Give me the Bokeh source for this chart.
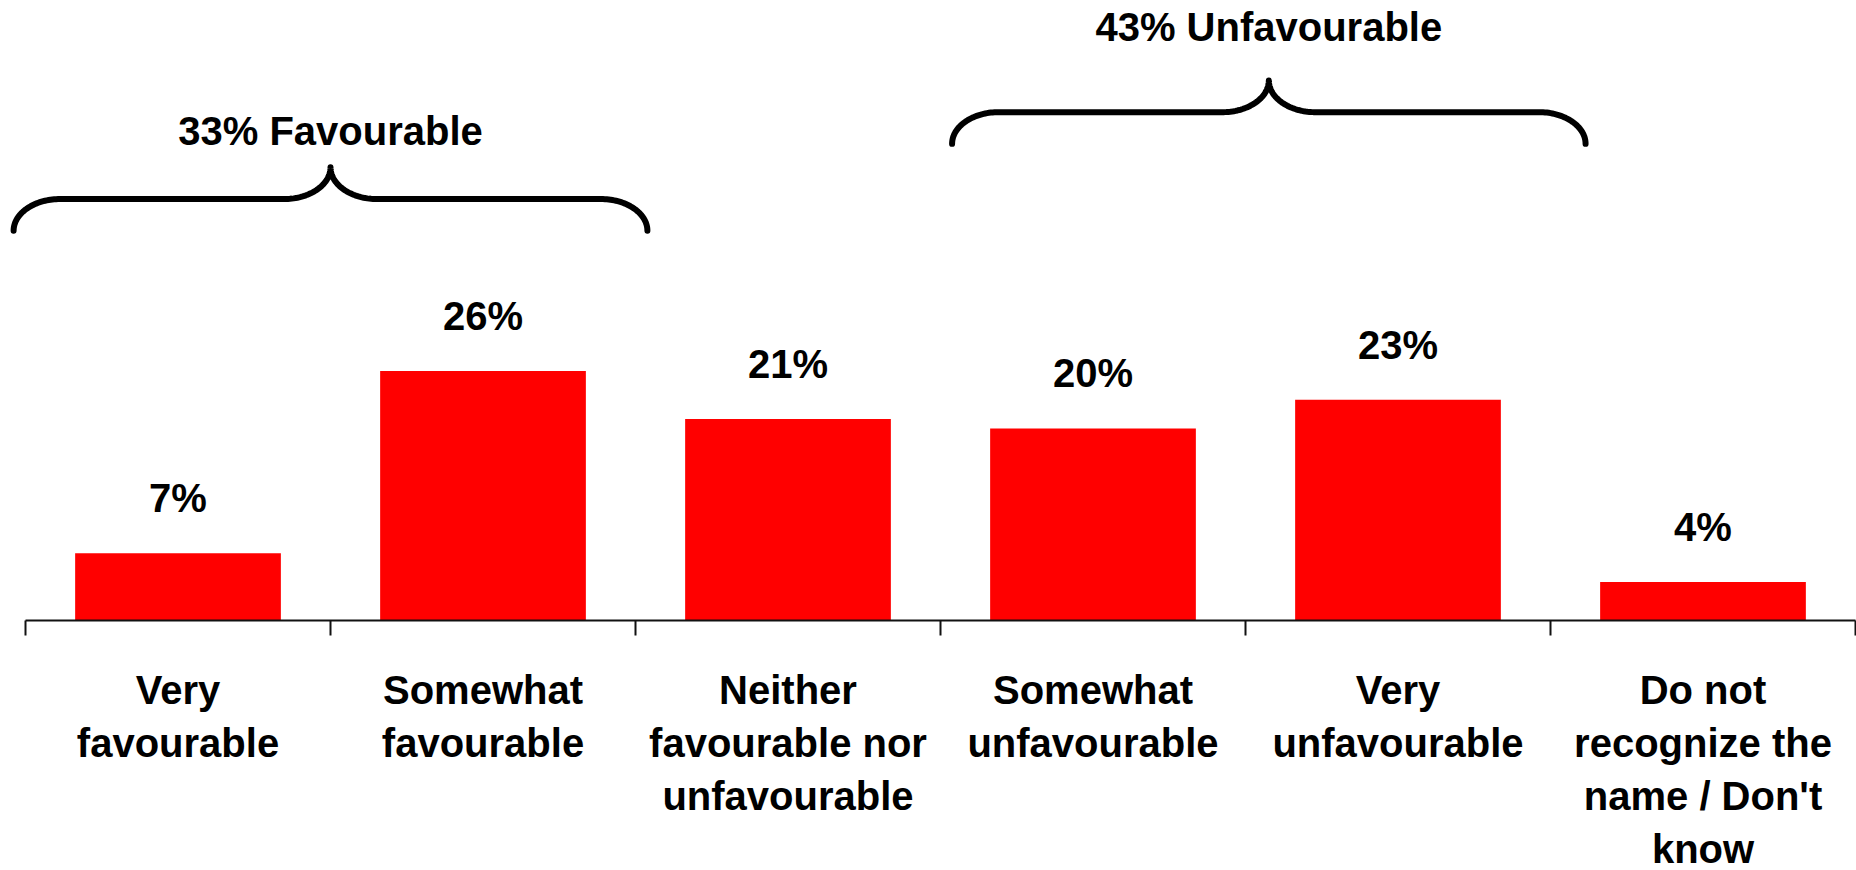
import numpy as np
from bokeh.plotting import figure
from bokeh.models import Range1d, LinearAxis, FixedTicker
from bokeh.core.properties import value
from bokeh.embed import file_html
from bokeh.resources import INLINE

# ---- data ----
categories = [
    "Very\nfavourable",
    "Somewhat\nfavourable",
    "Neither\nfavourable nor\nunfavourable",
    "Somewhat\nunfavourable",
    "Very\nunfavourable",
    "Do not\nrecognize the\nname / Don't\nknow",
]
values = [7, 26, 21, 20, 23, 4]
value_labels = ["7%", "26%", "21%", "20%", "23%", "4%"]

brace_labels = ["33% Favourable", "43% Unfavourable"]
brace_left = [-0.539, 2.538]
brace_right = [1.539, 4.615]
brace_bottom = [40.6, 49.65]
brace_top = [47.2, 56.25]
brace_label_y = [50.95, 61.85]

FONT = value("Liberation Sans")
FS = "40px"

p = figure(width=1856, height=870,
           x_range=Range1d(-0.582, 5.5033), y_range=Range1d(-26.04, 64.58),
           x_axis_type=None, y_axis_type=None,
           toolbar_location=None, output_backend="svg",
           min_border=0, outline_line_color=None)
p.background_fill_color = "white"
p.border_fill_color = "white"

xs = list(range(len(values)))

p.vbar(x=xs, top=values, bottom=0, width=0.6745, fill_color="#FF0000", line_color=None)

# axis at zero with ticks at category boundaries
ticks = [i - 0.5 for i in range(len(values) + 1)]
ax = LinearAxis(ticker=FixedTicker(ticks=ticks), fixed_location=0,
                bounds=(ticks[0], ticks[-1]),
                axis_line_color="#111111", axis_line_width=2,
                major_tick_line_color="#111111", major_tick_line_width=2,
                major_tick_in=0, major_tick_out=15,
                minor_tick_line_color=None,
                major_label_overrides={t: "" for t in ticks},
                major_label_text_font_size="1px")
p.add_layout(ax, "below")

# value labels
p.text(x=xs, y=values, text=value_labels, y_offset=-55,
       text_align="center", text_baseline="alphabetic",
       text_font=FONT, text_font_size=FS, text_font_style="bold", text_color="black")

# category labels (split into lines)
lx, lt, lo = [], [], []
for i, c in enumerate(categories):
    for k, line in enumerate(c.split("\n")):
        lx.append(i)
        lt.append(line)
        lo.append(69 + 53 * k)
p.text(x=lx, y=[0] * len(lx), text=lt, y_offset=lo,
       text_align="center", text_baseline="alphabetic",
       text_font=FONT, text_font_size=FS, text_font_style="bold", text_color="black")


def bez(p0, p1, p2, p3, n=40):
    t = np.linspace(0, 1, n)[:, None]
    pts = ((1 - t) ** 3) * np.array(p0) + 3 * ((1 - t) ** 2) * t * np.array(p1) \
        + 3 * (1 - t) * t ** 2 * np.array(p2) + t ** 3 * np.array(p3)
    return pts


def brace(xl, xr, yb, yt, w=0.152):
    ym = (yb + yt) / 2
    xc = (xl + xr) / 2
    k = 0.55
    segs = [
        bez((xl, yb), (xl, yb + k * (ym - yb)), (xl + w * (1 - k), ym), (xl + w, ym)),
        bez((xl + w, ym), (xl + w, ym), (xc - w, ym), (xc - w, ym), n=2),
        bez((xc - w, ym), (xc - w * (1 - k), ym), (xc, yt - k * (yt - ym)), (xc, yt)),
        bez((xc, yt), (xc, yt - k * (yt - ym)), (xc + w * (1 - k), ym), (xc + w, ym)),
        bez((xc + w, ym), (xc + w, ym), (xr - w, ym), (xr - w, ym), n=2),
        bez((xr - w, ym), (xr - w * (1 - k), ym), (xr, yb + k * (ym - yb)), (xr, yb)),
    ]
    pts = np.vstack(segs)
    return pts[:, 0].tolist(), pts[:, 1].tolist()


bxs, bys = [], []
for xl, xr, yb, yt in zip(brace_left, brace_right, brace_bottom, brace_top):
    bx, by = brace(xl, xr, yb, yt)
    bxs.append(bx)
    bys.append(by)
p.multi_line(xs=bxs, ys=bys, line_color="black", line_width=6,
             line_cap="round", line_join="round")

brace_cx = [(a + b) / 2 for a, b in zip(brace_left, brace_right)]
p.text(x=brace_cx, y=brace_label_y, text=brace_labels,
       text_align="center", text_baseline="alphabetic",
       text_font=FONT, text_font_size=FS, text_font_style="bold", text_color="black")

open("out.html", "w").write(file_html(p, INLINE))
